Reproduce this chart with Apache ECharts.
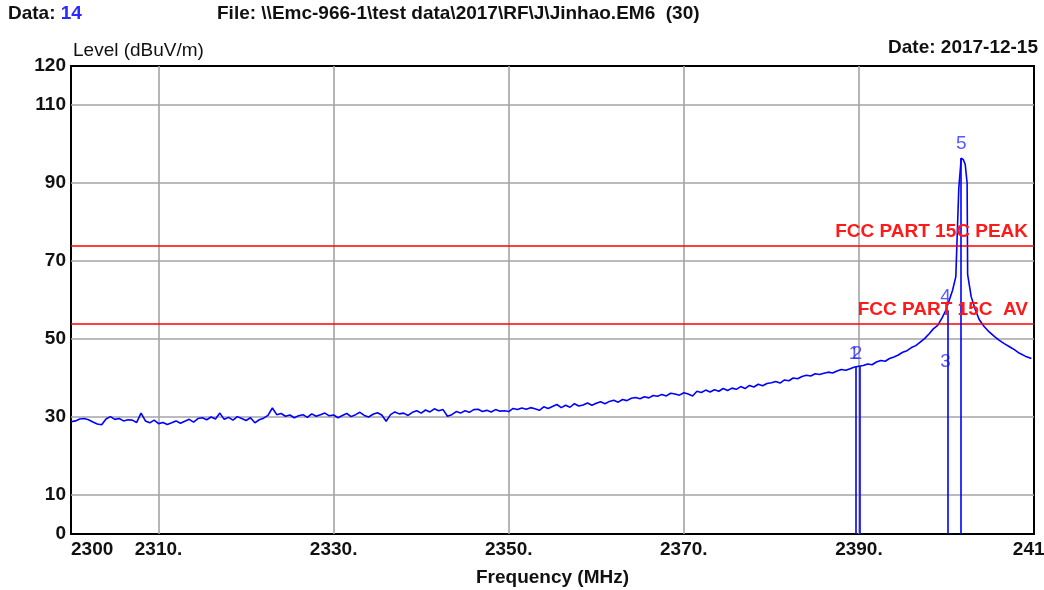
<!DOCTYPE html>
<html lang="en">
<head>
<meta charset="UTF-8">
<title>Jinhao.EM6</title>
<script src="https://cdn.jsdelivr.net/npm/echarts@6/dist/echarts.min.js"></script>
<style>
    html, body { margin: 0; padding: 0; background: #fff; }
    #chart { width: 1044px; height: 590px; }
</style>
</head>
<body>
<div id="chart"></div>
<script type="text/javascript">

    var xLabels = [2300, 2310, 2330, 2350, 2370, 2390, 2410];
    var xGrid = [2310, 2330, 2350, 2370, 2390];
    var yLabels = [0, 10, 30, 50, 70, 90, 110, 120];
    var yGrid = [10, 30, 50, 70, 90, 110];

    // trace (MHz / dBuV/m)
    var traceFreq = [
        2300, 2300.5, 2301, 2301.5, 2302, 2302.5, 2303, 2303.5, 2304, 2304.5,
        2305, 2305.5, 2306, 2306.5, 2307, 2307.5, 2308, 2308.5, 2309, 2309.5,
        2310, 2310.5, 2311, 2311.5, 2312, 2312.5, 2313, 2313.5, 2314, 2314.5,
        2315, 2315.5, 2316, 2316.5, 2317, 2317.5, 2318, 2318.5, 2319, 2319.5,
        2320, 2320.5, 2321, 2321.5, 2322, 2322.5, 2323, 2323.5, 2324, 2324.5,
        2325, 2325.5, 2326, 2326.5, 2327, 2327.5, 2328, 2328.5, 2329, 2329.5,
        2330, 2330.5, 2331, 2331.5, 2332, 2332.5, 2333, 2333.5, 2334, 2334.5,
        2335, 2335.5, 2336, 2336.5, 2337, 2337.5, 2338, 2338.5, 2339, 2339.5,
        2340, 2340.5, 2341, 2341.5, 2342, 2342.5, 2343, 2343.5, 2344, 2344.5,
        2345, 2345.5, 2346, 2346.5, 2347, 2347.5, 2348, 2348.5, 2349, 2349.5,
        2350, 2350.5, 2351, 2351.5, 2352, 2352.5, 2353, 2353.5, 2354, 2354.5,
        2355, 2355.5, 2356, 2356.5, 2357, 2357.5, 2358, 2358.5, 2359, 2359.5,
        2360, 2360.5, 2361, 2361.5, 2362, 2362.5, 2363, 2363.5, 2364, 2364.5,
        2365, 2365.5, 2366, 2366.5, 2367, 2367.5, 2368, 2368.5, 2369, 2369.5,
        2370, 2370.5, 2371, 2371.5, 2372, 2372.5, 2373, 2373.5, 2374, 2374.5,
        2375, 2375.5, 2376, 2376.5, 2377, 2377.5, 2378, 2378.5, 2379, 2379.5,
        2380, 2380.5, 2381, 2381.5, 2382, 2382.5, 2383, 2383.5, 2384, 2384.5,
        2385, 2385.5, 2386, 2386.5, 2387, 2387.5, 2388, 2388.5, 2389, 2389.5,
        2390, 2390.5, 2391, 2391.5, 2392, 2392.5, 2393, 2393.5, 2394, 2394.5,
        2395, 2395.5, 2396, 2396.5, 2397, 2397.5, 2398, 2398.5, 2399, 2399.5,
        2399.9, 2400.3, 2400.7, 2401.07, 2401.41, 2401.69, 2401.92, 2402.14, 2402.36, 2402.42,
        2402.83, 2403.3, 2403.74, 2404.3, 2404.88, 2405.5, 2406, 2406.6, 2407.2, 2407.8,
        2408.3, 2409, 2409.7
    ];
    var traceLevel = [
        28.8, 29.0, 29.5, 29.6, 29.3, 28.7, 28.2, 28.0, 29.5, 30.1,
        29.4, 29.6, 29.0, 29.3, 29.2, 28.6, 31.0, 29.0, 28.5, 29.2,
        28.3, 28.6, 28.1, 28.5, 29.0, 28.4, 28.9, 29.4, 28.7, 29.6,
        29.8, 29.3, 30.0, 29.5, 31.0, 29.4, 29.9, 29.2, 30.1, 29.6,
        29.1, 29.8, 28.5, 29.3, 29.7, 30.4, 32.3, 30.6, 30.9, 30.2,
        30.5, 29.8, 30.3, 30.6, 29.9, 30.8, 30.2, 30.6, 31.0, 30.3,
        30.5, 29.8, 30.4, 30.9, 30.1, 30.6, 31.2, 30.4, 30.0, 30.7,
        31.1, 30.5, 28.9, 30.6, 31.3, 30.8, 31.0, 30.4, 31.2, 31.6,
        31.0, 31.8, 31.3, 32.1, 31.6, 31.9, 30.2, 30.6, 31.4, 31.0,
        31.6, 31.2, 31.9, 32.0, 31.4, 31.7, 31.3, 31.9, 31.5, 31.6,
        31.4, 32.2, 31.9, 32.3, 32.0, 32.4, 32.1, 31.7, 32.6, 32.2,
        32.7, 33.2, 32.4, 33.0, 32.5, 33.4, 32.8, 33.1, 33.6, 33.0,
        33.5, 33.9, 33.4, 34.0, 34.3, 33.8, 34.5, 34.2, 34.8, 35.0,
        34.7, 35.2, 34.9, 35.5, 35.3, 35.8, 35.4, 36.1, 35.9, 35.6,
        36.2, 35.9, 35.4, 36.6, 36.3, 36.9, 36.4, 37.0, 36.6, 37.3,
        36.8, 37.4, 37.1, 37.8, 37.3, 38.1, 37.7, 38.4, 38.0, 38.6,
        38.8, 39.1, 38.7, 39.5, 39.3, 40.0, 39.8, 40.4, 40.7, 40.5,
        41.1, 40.9, 41.2, 41.5, 41.3, 41.8, 42.2, 42.0, 42.4, 42.8,
        43.0, 43.2, 43.6, 43.4, 44.1, 44.5, 44.3, 45.0, 45.4, 45.9,
        46.6, 47.0, 47.8, 48.3, 49.2, 50.1, 51.3, 52.6, 53.5, 55.4,
        57.2, 59.8, 62.5, 66.0, 88.7, 96.4, 96.0, 94.8, 90.0, 66.5,
        60.8, 57.5, 55.0, 53.2, 51.8, 50.6, 49.7, 48.8, 48.0, 47.2,
        46.4, 45.6, 45.0
    ];

    // marker drop lines and their numbers
    var markerLineFreq = [2389.67, 2390.05, 2400.12, 2401.69];
    var markerLineTop = [42.8, 43.0, 57.4, 96.4];
    var markerNames = ['1', '2', '3', '4', '5'];
    var markerLabelFreq = [2389.45, 2389.8, 2399.9, 2399.9, 2401.69];
    var markerLabelLevel = [46.2, 46.2, 44.1, 60.8, 100];

    // limit lines
    var limitNames = ['FCC PART 15C PEAK', 'FCC PART 15C  AV'];
    var limitLevels = [74, 54];

    var FONT = "'Liberation Sans', Arial, sans-serif";
    var TXT = '#111';

    var chart = echarts.init(document.getElementById('chart'));

    var traceData = [];
    for (var i = 0; i < traceFreq.length; i++) {
        traceData.push([traceFreq[i], traceLevel[i]]);
    }
    var dropLines = [];
    for (var i = 0; i < markerLineFreq.length; i++) {
        dropLines.push([{ coord: [markerLineFreq[i], 0] }, { coord: [markerLineFreq[i], markerLineTop[i]] }]);
    }
    var labelData = [];
    for (var i = 0; i < markerNames.length; i++) {
        labelData.push({ name: markerNames[i], value: [markerLabelFreq[i], markerLabelLevel[i]] });
    }
    var limitData = [];
    for (var i = 0; i < limitNames.length; i++) {
        limitData.push({ name: limitNames[i], yAxis: limitLevels[i] });
    }

    chart.setOption({
        backgroundColor: '#fff',
        animation: false,
        textStyle: { fontFamily: FONT },
        grid: {
            left: 71, right: 10, top: 66, bottom: 56,
            show: true, borderColor: '#000', borderWidth: 2,
            containLabel: false, outerBoundsMode: 'none'
        },
        graphic: [
            {
                type: 'text', left: 8, top: 4,
                style: {
                    text: '{a|Data: }{b|14}',
                    rich: {
                        a: { fontFamily: FONT, fontSize: 19, fontWeight: 'bold', fill: TXT },
                        b: { fontFamily: FONT, fontSize: 19, fontWeight: 'bold', fill: '#2a2aff' }
                    }
                }
            },
            {
                type: 'text', left: 217, top: 4,
                style: {
                    text: 'File: \\\\Emc-966-1\\test data\\2017\\RF\\J\\Jinhao.EM6  (30)',
                    fontFamily: FONT, fontSize: 19, fontWeight: 'bold', fill: TXT
                }
            },
            {
                type: 'text', right: 6, top: 38,
                style: {
                    text: 'Date: 2017-12-15',
                    fontFamily: FONT, fontSize: 19, fontWeight: 'bold', fill: TXT
                }
            }
        ],
        xAxis: {
            type: 'value', min: 2300, max: 2410,
            name: 'Frequency (MHz)', nameLocation: 'middle', nameGap: 34,
            nameTextStyle: { fontSize: 19, fontWeight: 'bold', color: TXT, fontFamily: FONT },
            axisLine: { show: false },
            axisTick: { show: false, customValues: xGrid },
            axisLabel: {
                customValues: xLabels, margin: 6, fontSize: 19, fontWeight: 'bold', color: TXT,
                alignMinLabel: 'left',
                formatter: function (v) { return (v === 2300 || v === 2410) ? String(v) : v + '.'; }
            },
            splitLine: { show: true, lineStyle: { color: '#a4a4a4', width: 1.6 } }
        },
        yAxis: {
            type: 'value', min: 0, max: 120,
            name: 'Level (dBuV/m)', nameLocation: 'end', nameGap: 6,
            nameTextStyle: { fontSize: 19, color: TXT, align: 'left', verticalAlign: 'bottom', padding: [0, 0, 0, 2], fontFamily: FONT },
            axisLine: { show: false },
            axisTick: { show: false, customValues: yGrid },
            axisLabel: { customValues: yLabels, margin: 5, fontSize: 19, fontWeight: 'bold', color: TXT },
            splitLine: { show: true, lineStyle: { color: '#a4a4a4', width: 1.6 } }
        },
        series: [
            {
                name: 'limits', type: 'line', data: [], silent: true,
                markLine: {
                    symbol: 'none', silent: true,
                    lineStyle: { color: '#ff0000', width: 1.6, type: 'solid' },
                    label: {
                        show: true, position: 'insideEndTop', formatter: '{b}', distance: [6, 4],
                        color: '#ff1a1a', fontSize: 19, fontWeight: 'bold', fontFamily: FONT
                    },
                    data: limitData
                }
            },
            {
                name: 'trace', type: 'line', data: traceData, showSymbol: false, symbol: 'none',
                lineStyle: { color: '#0000ff', width: 1.6 }, z: 3
            },
            {
                name: 'markers', type: 'line', data: [], silent: true, z: 3,
                markLine: {
                    symbol: 'none', silent: true,
                    lineStyle: { color: '#0000ff', width: 1.6, type: 'solid' },
                    label: { show: false },
                    data: dropLines
                }
            },
            {
                name: 'markerNo', type: 'scatter', data: labelData, symbolSize: 1,
                itemStyle: { color: 'rgba(0,0,0,0)' }, z: 4,
                label: {
                    show: true, position: 'inside', formatter: '{b}',
                    color: '#3030ff', fontSize: 19, fontFamily: FONT
                }
            }
        ]
    });

</script>
</body>
</html>
